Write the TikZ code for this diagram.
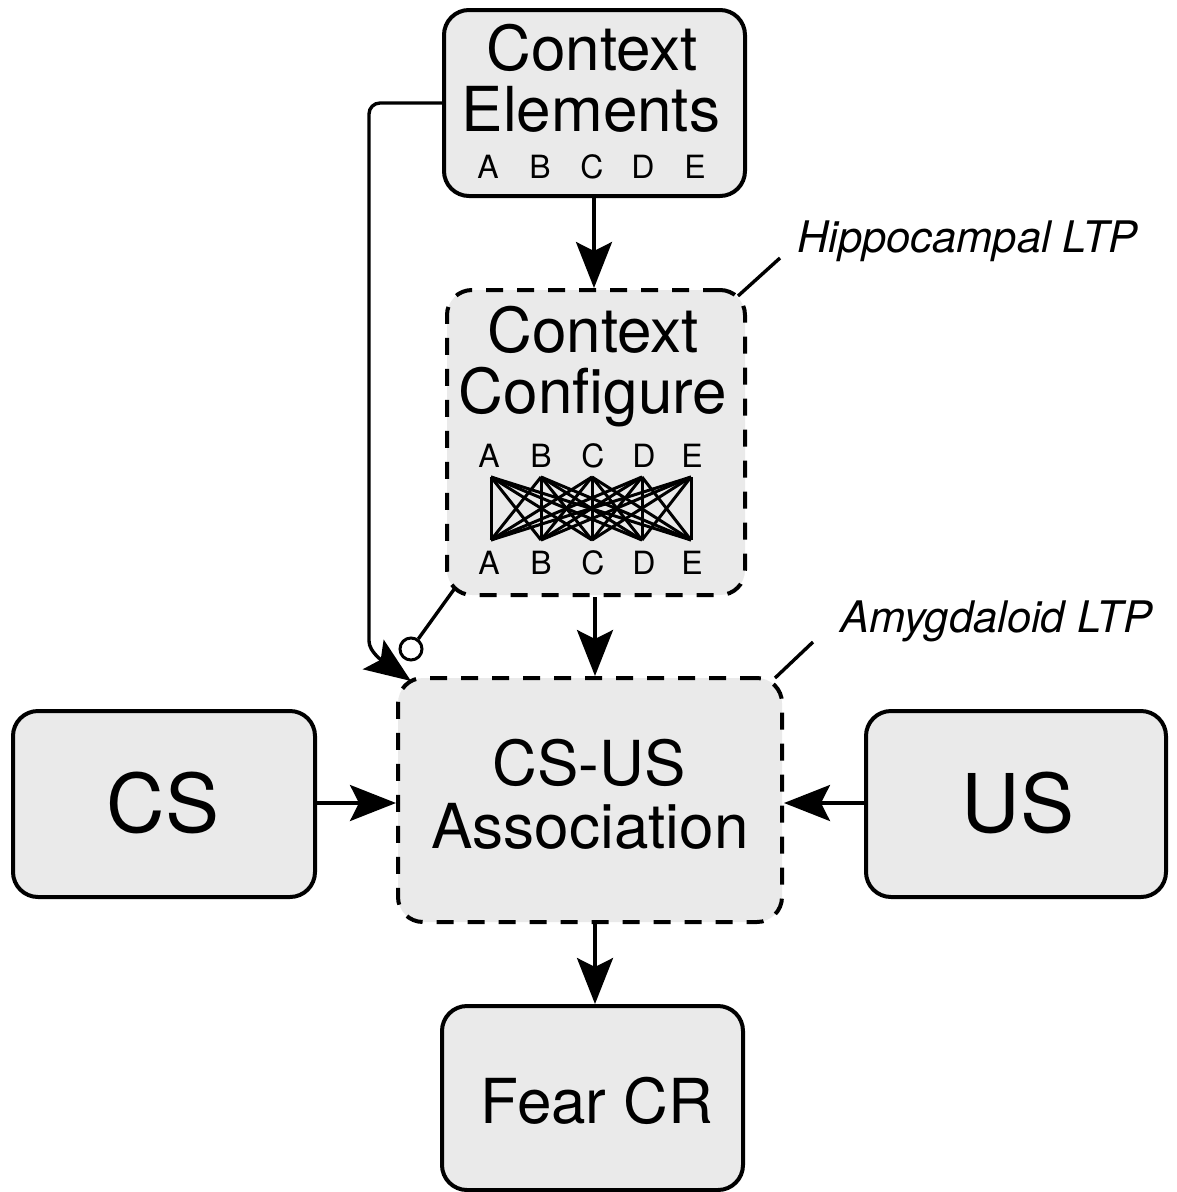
\documentclass[tikz,border=0pt]{standalone}
\usepackage{fontspec}
\setmainfont{TeX Gyre Heros}
\usetikzlibrary{arrows.meta}
\definecolor{boxfill}{RGB}{234,234,234}
\tikzset{
  box/.style={draw, line width=4pt, fill=boxfill, rounded corners=25pt,
              inner sep=0pt, rectangle},
  solidbox/.style={box},
  dashbox/.style={box, dash pattern=on 17pt off 14pt},
  title/.style={font=\fontsize{62}{62}\selectfont, anchor=base, inner sep=0pt},
  bigtitle/.style={font=\fontsize{81}{81}\selectfont, anchor=base, inner sep=0pt},
  letter/.style={font=\fontsize{32}{32}\selectfont, anchor=base, inner sep=0pt},
  tag/.style={font=\fontsize{43.5}{43.5}\selectfont\itshape, anchor=base west, inner sep=0pt},
  arr/.style={line width=3.4pt, -{Stealth[length=46pt,width=36pt,inset=9pt]}},
  wire/.style={line width=3.4pt},
  web/.style={line width=3pt},
}
\begin{document}
\begin{tikzpicture}[x=1pt,y=-1pt]
\useasboundingbox (0,0) rectangle (1176,1192);

% boxes
\node[solidbox, minimum width=301pt, minimum height=186pt] (ctxel)  at (594.5,103) {};
\node[dashbox,  minimum width=298pt, minimum height=305pt] (ctxcfg) at (596,442.5) {};
\node[dashbox,  minimum width=384pt, minimum height=244pt] (assoc)  at (590,800) {};
\node[solidbox, minimum width=302pt, minimum height=186pt] (cs)     at (164,804) {};
\node[solidbox, minimum width=300pt, minimum height=186pt] (us)     at (1016,804) {};
\node[solidbox, minimum width=301pt, minimum height=184pt] (fear)   at (592.5,1098) {};

% box texts
\node[title] (elA) at (592,70)  {Context};
\node[title] (elB) at (591,131) {Elements};
\node[title] (cfA) at (593,352) {Context};
\node[title] (cfB) at (593,413) {Configure};
\node[title] (asA) at (589,785) {CS-US};
\node[title] (asB) at (590,848) {Association};
\node[bigtitle] (csT) at (163,832) {CS};
\node[bigtitle] (usT) at (1018,832) {US};
\node[title] (frT) at (597,1123) {Fear CR};

% element letters
\foreach \l/\x in {A/488,B/540,C/592,D/643,E/695}{
  \node[letter] (el\l) at (\x,178) {\l};
}
\foreach \l/\x in {A/489,B/541,C/593,D/644,E/692}{
  \node[letter] (cu\l) at (\x,467) {\l};
  \node[letter] (cl\l) at (\x,574) {\l};
}

% every upper element wired to every lower element
\foreach \i/\xa in {1/491,2/541,3/592,4/642,5/691}{
  \coordinate (up\i) at (\xa,477);
  \coordinate (dn\i) at (\xa,540);
}
\foreach \i in {1,...,5}{
  \foreach \j in {1,...,5}{
    \draw[web] (up\i) -- (dn\j);
  }
}

% main arrows, kept straight on a common axis
\coordinate (axisA) at (594,0);
\coordinate (axisB) at (595,0);
\coordinate (rowY) at (0,803);
\draw[arr] (ctxel.south -| axisA) -- (ctxcfg.north -| axisA);
\draw[arr] (ctxcfg.south -| axisB) -- (assoc.north -| axisB);
\draw[arr] (assoc.south -| axisB) -- (fear.north -| axisB);
\draw[arr] (cs.east |- rowY) -- (assoc.west |- rowY);
\draw[arr] (us.west |- rowY) -- (assoc.east |- rowY);

% direct context path into the association
\coordinate (bend) at (369,630);
\coordinate (hit) at (411,681);
\draw[arr, rounded corners=11pt] (ctxel.west) -- (369,103) -- (bend)
  .. controls (369,652) and (384,662) .. (hit);

% inhibitory link from the configuration
\coordinate (cfgcorner) at (455,588);
\node[draw, circle, line width=3pt, fill=white, minimum size=22pt, inner sep=0pt] (inh) at (411,649) {};
\draw[wire] (cfgcorner) -- (inh);

% site labels
\coordinate (hipA) at (738,296);
\coordinate (hipB) at (780,258);
\draw[wire] (hipA) -- (hipB);
\node[tag] (hip) at (797,252) {Hippocampal LTP};

\coordinate (amyA) at (775,678);
\coordinate (amyB) at (813,642);
\draw[wire] (amyA) -- (amyB);
\node[tag] (amy) at (840,632) {Amygdaloid LTP};
\end{tikzpicture}
\end{document}
